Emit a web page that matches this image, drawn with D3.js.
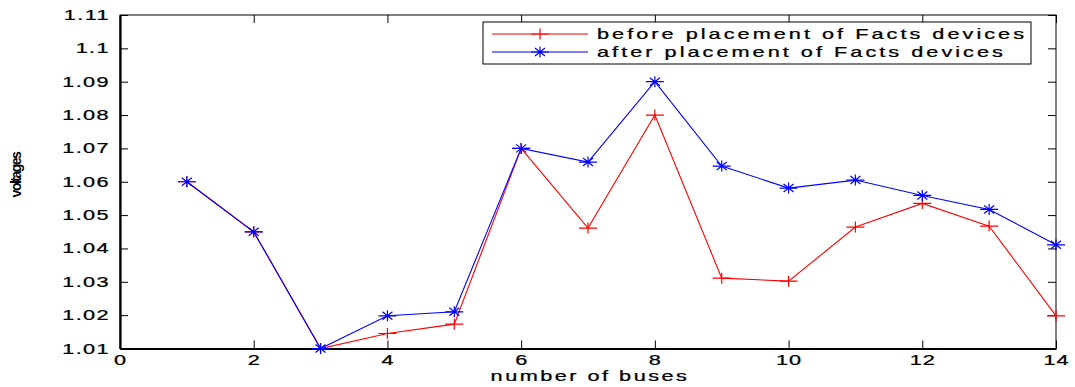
<!DOCTYPE html>
<html>
<head>
<meta charset="utf-8">
<script src="https://cdn.jsdelivr.net/npm/d3@7"></script>
<style>
  body { margin: 0; background: #fff; }
  svg { display: block; }
  text { font-family: "Liberation Sans", Arial, sans-serif; fill: #000; }
</style>
</head>
<body>
<div id="chart"></div>
<script>
// Bus voltage profile before and after FACTS placement
const buses = [1, 2, 3, 4, 5, 6, 7, 8, 9, 10, 11, 12, 13, 14];
const voltBefore = [1.06, 1.045, 1.01, 1.0145, 1.0173, 1.07, 1.0461, 1.08, 1.0311, 1.0302, 1.0464, 1.0535, 1.0467, 1.0198];
const voltAfter  = [1.06, 1.045, 1.01, 1.0198, 1.021, 1.07, 1.0659, 1.09, 1.0647, 1.0581, 1.0605, 1.0559, 1.0517, 1.0411];
const xTicks = [0, 2, 4, 6, 8, 10, 12, 14];
const yTicks = [1.01, 1.02, 1.03, 1.04, 1.05, 1.06, 1.07, 1.08, 1.09, 1.1, 1.11];
const seriesNames = ["before placement of Facts devices", "after placement of Facts devices"];

const W = 1075, H = 387;
const m = { left: 120, right: 1056, top: 15, bottom: 348.5 };
const SX = 1.55; // horizontal glyph stretch used for all text

const svg = d3.select("#chart").append("svg").attr("width", W).attr("height", H);

const x = d3.scaleLinear().domain([0, 14]).range([m.left, m.right]);
const y = d3.scaleLinear().domain([1.01, 1.11]).range([m.bottom, m.top]);

// place a stretched text with its anchor at (px, py)
function stretched(g, px, py, str, opts) {
  return g.append("text")
    .attr("transform", `translate(${px},${py}) scale(${SX},1)`)
    .attr("text-anchor", opts.anchor || "start")
    .style("font-size", (opts.size || 14) + "px")
    .style("letter-spacing", (opts.ls || 0) + "px")
    .attr("stroke", "#000").attr("stroke-width", 0.25)
    .text(str);
}

// frame
svg.append("rect")
  .attr("x", m.left).attr("y", m.top)
  .attr("width", m.right - m.left).attr("height", m.bottom - m.top)
  .attr("fill", "none").attr("stroke", "#000").attr("stroke-width", 1);

const tickLen = 8;
// bottom axis
const xAxis = svg.append("g").attr("transform", `translate(0,${m.bottom})`)
  .call(d3.axisBottom(x).tickValues(xTicks).tickSizeInner(-tickLen).tickSizeOuter(0).tickFormat(""));
xAxis.select(".domain").attr("stroke-width", 2.2);
xTicks.forEach(t => {
  stretched(svg, x(t) + 0.5, m.bottom + 16.5, d3.format("d")(t), { anchor: "middle", ls: 0.6 });
});
// top ticks
svg.append("g").attr("transform", `translate(0,${m.top})`)
  .call(d3.axisTop(x).tickValues(xTicks).tickSizeInner(-tickLen).tickSizeOuter(0).tickFormat(""))
  .select(".domain").remove();

// left axis
const yAxis = svg.append("g").attr("transform", `translate(${m.left},0)`)
  .call(d3.axisLeft(y).tickValues(yTicks).tickSizeInner(-tickLen).tickSizeOuter(0).tickFormat(""));
yAxis.select(".domain").attr("stroke-width", 2.2);
yTicks.forEach(t => {
  stretched(svg, m.left - 10, y(t) + 5, String(+t.toFixed(2)), { anchor: "end", ls: 0.9 });
});
// right ticks
svg.append("g").attr("transform", `translate(${m.right},0)`)
  .call(d3.axisRight(y).tickValues(yTicks).tickSizeInner(-tickLen).tickSizeOuter(0).tickFormat(""))
  .select(".domain").remove();

// axis titles
stretched(svg, (m.left + m.right) / 2 + 2, 381, "number of buses", { anchor: "middle", ls: 1.6 });
svg.append("text")
  .attr("transform", `translate(21,175) rotate(-90)`)
  .attr("text-anchor", "middle").style("font-size", "14px").style("font-weight", "bold")
  .style("letter-spacing", "-1.5px")
  .text("voltages");

const line = d3.line().x((d, i) => x(buses[i])).y(d => y(d));

function plusMarker(g, px, py, color) {
  g.append("path").attr("d", `M${px - 9},${py}H${px + 9}M${px},${py - 5.5}V${py + 5.5}`)
    .attr("stroke", color).attr("stroke-width", 1.2).attr("fill", "none");
}
function starMarker(g, px, py, color) {
  const sx = 5, sy = 4;
  g.append("path")
    .attr("d", `M${px - 9},${py}H${px + 9}M${px},${py - 5.5}V${py + 5.5}M${px - sx},${py - sy}L${px + sx},${py + sy}M${px - sx},${py + sy}L${px + sx},${py - sy}`)
    .attr("stroke", color).attr("stroke-width", 1.2).attr("fill", "none");
}

// before series (red, plus markers)
svg.append("path").datum(voltBefore).attr("d", line)
  .attr("fill", "none").attr("stroke", "#ff0000").attr("stroke-width", 1.1);
const gB = svg.append("g");
voltBefore.forEach((v, i) => plusMarker(gB, x(buses[i]), y(v), "#ff0000"));

// after series (blue, star markers)
svg.append("path").datum(voltAfter).attr("d", line)
  .attr("fill", "none").attr("stroke", "#0000ff").attr("stroke-width", 1.1);
const gA = svg.append("g");
voltAfter.forEach((v, i) => starMarker(gA, x(buses[i]), y(v), "#0000ff"));

// legend
const lg = svg.append("g");
lg.append("rect").attr("x", 483).attr("y", 22).attr("width", 548).attr("height", 42)
  .attr("fill", "#fff").attr("stroke", "#000").attr("stroke-width", 1);
const colors = ["#ff0000", "#0000ff"];
seriesNames.forEach((name, i) => {
  const ly = 34 + i * 18;
  lg.append("line").attr("x1", 492).attr("x2", 588).attr("y1", ly).attr("y2", ly)
    .attr("stroke", colors[i]).attr("stroke-width", 1.1);
  if (i === 0) plusMarker(lg, 540, ly, colors[i]); else starMarker(lg, 540, ly, colors[i]);
  stretched(lg, 597, ly + 5, name, { ls: 1.95 });
});
</script>
</body>
</html>
